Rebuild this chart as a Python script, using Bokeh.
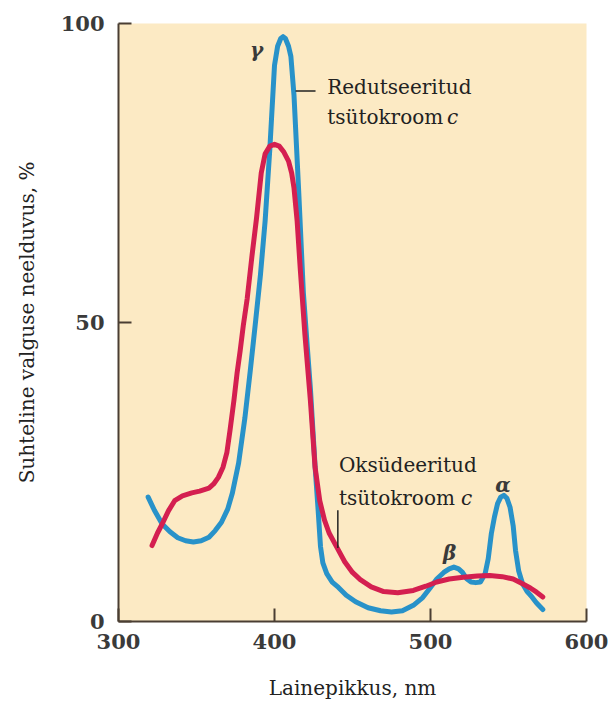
from bokeh.plotting import figure
from bokeh.models import FixedTicker, Range1d, ColumnDataSource
from bokeh.core.properties import value
from bokeh.embed import file_html
from bokeh.resources import INLINE

# ---- data ----
blue_nm = [319, 323, 328, 333, 338, 343, 348, 353, 358, 362, 366, 370, 373, 377, 381, 384.5,
           388, 391, 394, 397, 400, 402, 404, 405.5, 407, 409, 410.5, 412.5, 415.5, 418.5, 421,
           423, 426, 428, 429.5, 431, 433.5, 437, 441, 446, 452, 460, 468, 475, 482, 489, 495,
           500, 504, 508.5, 512, 515, 518, 520.5, 523, 526, 529, 532, 535, 537, 539, 541, 543,
           545, 547, 549, 551, 553, 554.5, 556.5, 559, 562, 565, 568, 572]
blue_v = [20.8, 18.6, 16.3, 15.0, 14.0, 13.5, 13.3, 13.5, 14.1, 15.2, 16.6, 18.8, 21.5, 26.5,
          34.0, 42.0, 50.5, 58.0, 67.0, 79.0, 93.0, 96.2, 97.5, 97.8, 97.5, 96.2, 94.5, 88.0,
          72.0, 55.0, 46.0, 39.0, 26.0, 18.5, 12.5, 9.8, 8.0, 6.6, 5.7, 4.4, 3.3, 2.3, 1.8, 1.6,
          1.8, 2.7, 4.0, 5.7, 7.1, 8.2, 8.8, 9.1, 8.8, 8.2, 7.2, 6.6, 6.5, 6.6, 8.0, 10.5, 14.7,
          17.5, 19.7, 20.8, 21.1, 20.6, 19.1, 16.0, 11.9, 8.5, 6.3, 5.0, 4.1, 3.1, 2.0]

red_nm = [321.5, 325, 328, 332, 336, 341, 347, 352, 358, 361, 364, 367, 369.5, 371.5, 374, 376,
          378, 380, 382.5, 385.5, 388.5, 391.5, 394, 397, 400, 403, 406, 409, 411, 412.5, 414.5,
          416.5, 419.5, 423, 426, 429, 432, 435, 440, 445, 450, 455, 462, 470, 479, 489, 497,
          504, 512, 521, 530, 538, 546, 553, 559, 564, 568, 572]
red_v = [12.7, 14.8, 16.3, 18.5, 20.2, 21.0, 21.5, 21.8, 22.3, 23.0, 24.1, 25.8, 28.3, 32.0,
         37.0, 41.5, 45.3, 49.5, 54.0, 61.0, 67.5, 75.0, 78.2, 79.5, 79.8, 79.5, 78.5, 77.0,
         75.0, 72.5, 67.0, 59.0, 48.0, 37.0, 25.8, 20.2, 17.0, 14.8, 12.4, 10.0, 8.2, 7.0, 5.8,
         5.0, 4.8, 5.2, 5.9, 6.6, 7.1, 7.4, 7.6, 7.7, 7.5, 7.1, 6.3, 5.6, 4.9, 4.1]

x_ticks = [300, 400, 500, 600]
y_ticks = [0, 50, 100]
x_label = "Lainepikkus, nm"
y_label = "Suhteline valguse neelduvus, %"

reduced_lines = ["Redutseeritud", "tsütokroom"]
oxidized_lines = ["Oksüdeeritud", "tsütokroom"]
greek = ["γ", "β", "α"]

# ---- annotation placement (data coords) ----
red_text_x, red_text_y = [433.8, 433.8], [89.4, 84.3]
red_c_x, red_c_y = 510.5, 84.3
ox_text_x, ox_text_y = [441.3, 441.3], [26.2, 20.6]
ox_c_x, ox_c_y = 519.5, 20.6
greek_x, greek_y = [388.5, 512.3, 546.5], [95.5, 11.5, 22.9]
lead_h = dict(x0=[413.5], y0=[88.7], x1=[426.3], y1=[88.7])
lead_v = dict(x0=[440.6], y0=[18.6], x1=[440.6], y1=[12.3])

BLUE = "#2892C9"
RED = "#D41F50"
AXIS = "#4A3E33"
BG = "#FCEAC4"
FONT = "DejaVu Serif"

p = figure(frame_width=468, frame_height=598, output_backend="svg", toolbar_location=None,
           x_range=Range1d(300, 600), y_range=Range1d(0, 100),
           min_border_left=118, min_border_right=25, min_border_top=23, min_border_bottom=83)
p.background_fill_color = BG
p.border_fill_color = "white"
p.outline_line_color = None
p.grid.visible = False

for ax in (p.xaxis[0], p.yaxis[0]):
    ax.axis_line_color = AXIS
    ax.axis_line_width = 2
    ax.major_tick_line_color = AXIS
    ax.major_tick_line_width = 2
    ax.major_tick_in = 13
    ax.major_tick_out = 0
    ax.minor_tick_line_color = None
    ax.major_label_text_font = FONT
    ax.major_label_text_font_style = "bold"
    ax.major_label_text_font_size = "21px"
    ax.major_label_text_color = "#3a3a3a"
    ax.axis_label_text_font = FONT
    ax.axis_label_text_font_style = "normal"
    ax.axis_label_text_font_size = "20px"
    ax.axis_label_text_color = "#222222"

p.xaxis[0].ticker = FixedTicker(ticks=x_ticks)
p.yaxis[0].ticker = FixedTicker(ticks=y_ticks)
p.xaxis[0].major_label_standoff = 12
p.yaxis[0].major_label_standoff = 14
p.xaxis[0].axis_label = x_label
p.yaxis[0].axis_label = y_label
p.xaxis[0].axis_label_standoff = 24
p.yaxis[0].axis_label_standoff = 19

# curves
p.line(blue_nm, blue_v, line_color=BLUE, line_width=5, line_join="round", line_cap="round")
p.line(red_nm, red_v, line_color=RED, line_width=5, line_join="round", line_cap="round")

# leader lines
p.segment(x0="x0", y0="y0", x1="x1", y1="y1", source=ColumnDataSource(lead_h),
          line_color="#222222", line_width=1.5)
p.segment(x0="x0", y0="y0", x1="x1", y1="y1", source=ColumnDataSource(lead_v),
          line_color="#222222", line_width=1.5)

# texts
p.text(x=red_text_x, y=red_text_y, text=reduced_lines, text_font=value(FONT),
       text_font_size="20px", text_color="#222222", text_baseline="alphabetic", text_align="left")
p.text(x=[red_c_x], y=[red_c_y], text=["c"], text_font=value(FONT), text_font_style="italic",
       text_font_size="20px", text_color="#222222", text_baseline="alphabetic", text_align="left")
p.text(x=ox_text_x, y=ox_text_y, text=oxidized_lines, text_font=value(FONT),
       text_font_size="20px", text_color="#222222", text_baseline="alphabetic", text_align="left")
p.text(x=[ox_c_x], y=[ox_c_y], text=["c"], text_font=value(FONT), text_font_style="italic",
       text_font_size="20px", text_color="#222222", text_baseline="alphabetic", text_align="left")
p.text(x=greek_x, y=greek_y, text=greek, text_font=value(FONT), text_font_style="bold italic",
       text_font_size="20px", text_color="#3a3a3a", text_baseline="middle", text_align="center")

open("out.html", "w").write(file_html(p, INLINE))
